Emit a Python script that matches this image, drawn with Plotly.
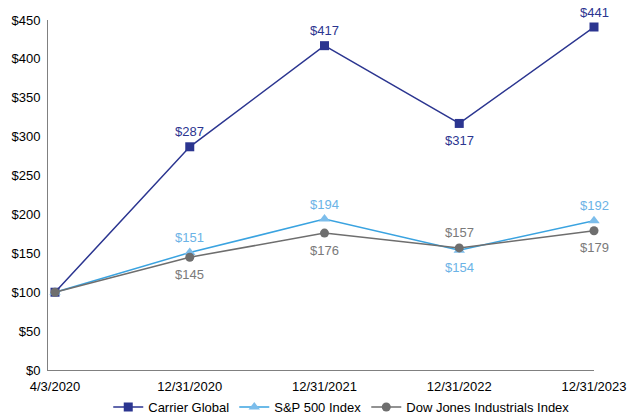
import plotly.graph_objects as go

dates = ["4/3/2020", "12/31/2020", "12/31/2021", "12/31/2022", "12/31/2023"]
carrier = [100, 287, 417, 317, 441]
sp500 = [100, 151, 194, 154, 192]
dow = [100, 145, 176, 157, 179]

# label placement: 1 = above, -1 = below (first point unlabeled)
carrier_side = [0, 1, 1, -1, 1]
sp_side = [0, 1, 1, -1, 1]
dow_side = [0, -1, -1, 1, -1]

xs = list(range(len(dates)))
FONT = "Liberation Sans, Arial, sans-serif"

series = [
    ("Carrier Global", carrier, carrier_side, "#2B3590", "#2B3590", "#2B3590", "square", 9),
    ("S&P 500 Index", sp500, sp_side, "#3AA3E0", "#7CBDEB", "#6BB3E6", "triangle-up", 10),
    ("Dow Jones Industrials Index", dow, dow_side, "#6E6E6E", "#6E6E6E", "#7A7A7A", "circle", 9),
]

fig = go.Figure()
for name, vals, sides, lc, mc, tc, sym, ms in series:
    fig.add_trace(go.Scatter(
        x=xs, y=vals, name=name, mode="lines+markers",
        line=dict(color=lc, width=1.5),
        marker=dict(symbol=sym, size=ms, color=mc), cliponaxis=False))
    for x, v, s in zip(xs, vals, sides):
        if s == 0:
            continue
        fig.add_annotation(x=x, y=v, text="$%d" % v, showarrow=False,
                           yshift=15 if s > 0 else -17,
                           font=dict(color=tc, size=13, family=FONT))

fig.update_layout(
    width=632, height=414,
    margin=dict(l=48, r=38, t=20, b=44, autoexpand=False),
    paper_bgcolor="white", plot_bgcolor="white",
    font=dict(family=FONT, size=13, color="#000000"),
    showlegend=True,
    legend=dict(orientation="h", x=0.538, xanchor="center", y=-0.063, yanchor="top",
                font=dict(size=13, color="#000000"), itemwidth=30),
    xaxis=dict(range=[-0.052, 4.0], tickvals=xs, ticktext=dates,
               showgrid=False, zeroline=False, showline=True,
               linecolor="#808080", linewidth=1, ticks="outside", ticklen=4,
               tickcolor="rgba(0,0,0,0)", tickfont=dict(size=13), automargin=False),
    yaxis=dict(range=[0, 450], tickvals=list(range(0, 451, 50)),
               ticktext=["$%d" % v for v in range(0, 451, 50)],
               showgrid=False, zeroline=False, showline=True,
               linecolor="#808080", linewidth=1, ticks="outside", ticklen=4,
               tickcolor="rgba(0,0,0,0)", tickfont=dict(size=13), automargin=False),
)

fig.write_html("out.html", config={"displayModeBar": False},
               post_script="document.body.style.margin='0';")
